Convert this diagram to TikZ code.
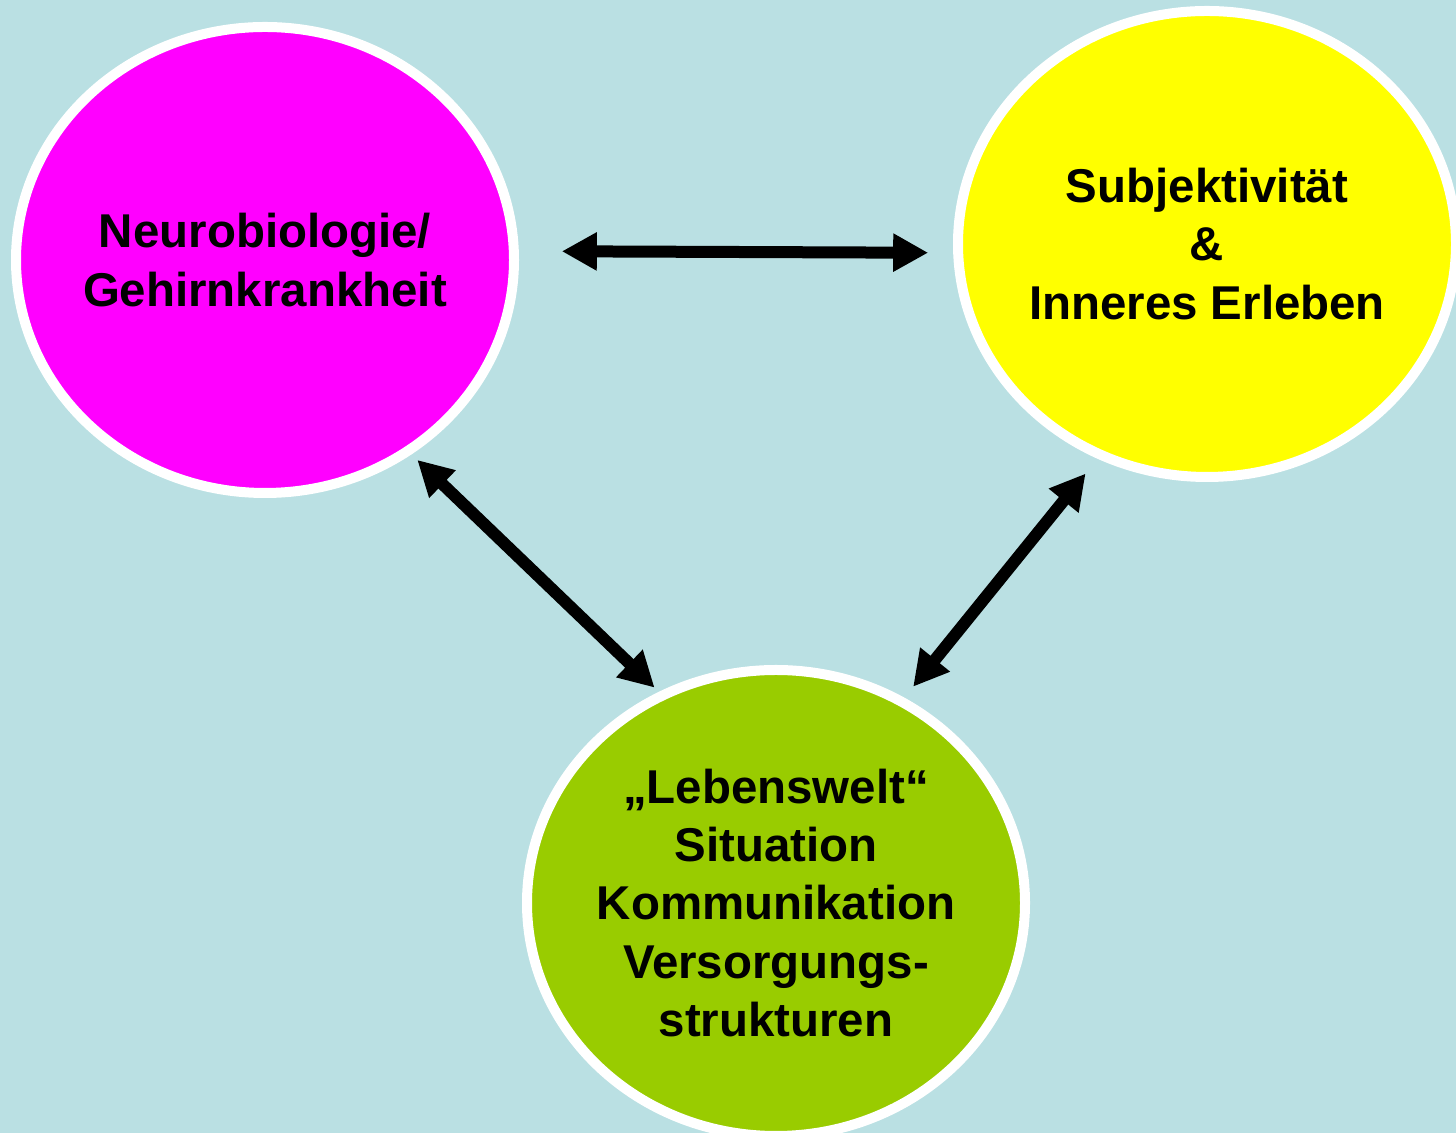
\documentclass[tikz,border=0pt]{standalone}
\usepackage{fontspec}
\setmainfont{Liberation Sans}
\usetikzlibrary{arrows.meta,shapes.geometric}
\definecolor{bgblue}{RGB}{186,224,227}
\definecolor{neuropink}{RGB}{255,0,255}
\definecolor{subjyellow}{RGB}{255,255,0}
\definecolor{limegreen}{RGB}{153,204,0}
\tikzset{
	blob/.style={ellipse, draw=white, line width=0.2cm, minimum width=9.96cm, minimum height=9.32cm, inner sep=-2.5cm, align=center, font=\bfseries\fontsize{27pt}{33.1pt}\selectfont},
	twoway/.style={line width=0.24cm, {Triangle[length=0.7cm,width=0.72cm]}-{Triangle[length=0.7cm,width=0.72cm]}}
}

\begin{document}
\begin{tikzpicture}
		%%%%% START %%%%%
		
		\useasboundingbox (0, 0) rectangle (29.12, 22.66);
		\fill[bgblue] (0, 0) rectangle (29.12, 22.66);
		
		\node[blob, fill=neuropink] (neuro) at (5.30, 17.46) {Neurobiologie/\\Gehirnkrankheit};
		\node[blob, fill=subjyellow] (subj) at (24.14, 17.78) {Subjektivität\\\&\\Inneres Erleben};
		\node[blob, fill=limegreen] (welt) at (15.52, 4.60) {„Lebenswelt“\\Situation\\Kommunikation\\Versorgungs-\\strukturen};
		
		\draw[twoway, shorten <=0.86cm, shorten >=0.5cm] (neuro.2) -- (subj.182);
		\draw[twoway, shorten <=0.16cm, shorten >=0.12cm] (neuro.-53) -- (welt.119);
		\draw[twoway, shorten <=0.38cm, shorten >=0.28cm] (subj.-117) -- (welt.58);
		
		%%%%% END %%%%%
	\end{tikzpicture}
\end{document}
